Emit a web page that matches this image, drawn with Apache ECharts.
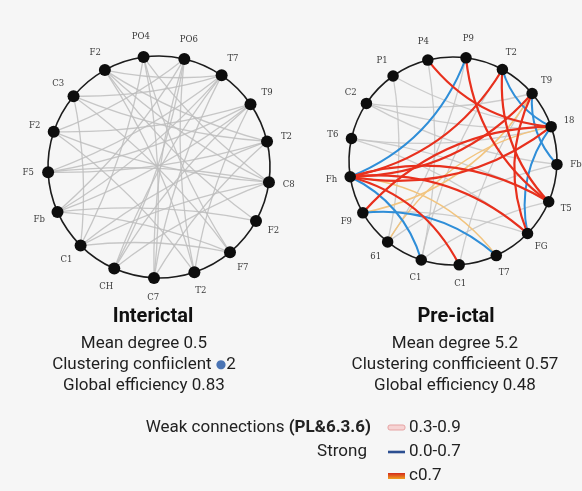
<!DOCTYPE html>
<html>
<head>
<meta charset="utf-8">
<script src="https://cdn.jsdelivr.net/npm/echarts@6/dist/echarts.min.js"></script>
<style>
  html, body { margin: 0; padding: 0; background: #f6f6f6; }
  #chart { width: 582px; height: 491px; }
</style>
</head>
<body>
<div id="chart"></div>
<script>
// Electrode labels, clockwise from the top of each ring
const interictalNodes = ["PO4", "PO6", "T7", "T9", "T2", "C8", "F2", "F7", "T2", "C7", "CH", "C1", "Fb", "F5", "F2", "C3", "F2"];
const preictalNodes = ["P4", "P9", "T2", "T9", "18", "Fb", "T5", "FG", "T7", "C1", "C1", "61", "F9", "Fh", "T6", "C2", "P1"];

// Connections as [node index, node index]
const interictalWeak = [
  [16, 2], [16, 5], [15, 2], [15, 4], [14, 3], [13, 2], [13, 4], [13, 5], [12, 6], [12, 3],
  [11, 5], [11, 7], [10, 3], [10, 1], [9, 0], [9, 2], [8, 16], [8, 14], [7, 0], [7, 15],
  [6, 16], [1, 12], [1, 9], [0, 5], [2, 10], [3, 13], [4, 11], [5, 14], [0, 11], [1, 14],
  [2, 12], [3, 8], [4, 9], [7, 12], [10, 5], [11, 15], [8, 1], [16, 4]
];
const preictalWeak = [
  [0, 10], [16, 11], [15, 3], [15, 5], [14, 4], [14, 6], [16, 4], [2, 10], [3, 9], [5, 11],
  [7, 12], [6, 10], [14, 7], [15, 4], [1, 11]
];
const preictalModerate = [[11, 4], [12, 3], [13, 8]];
const preictalStrongLow = [[1, 13], [12, 8], [13, 10], [2, 4], [4, 7], [3, 5]];
const preictalStrongHigh = [
  [0, 4], [1, 6], [2, 13], [2, 6], [3, 13], [4, 13], [4, 12], [3, 7], [13, 6], [13, 7], [13, 9]
];

// Network summary figures
const interictalStats = { title: "Interictal", degree: "0.5", clustering: "2", efficiency: "0.83" };
const preictalStats = { title: "Pre-ictal", degree: "5.2", clustering: "0.57", efficiency: "0.48" };

// Legend entries
const legendLabels = ["Weak connections", "Strong", ""];
const legendRanges = ["0.3-0.9", "0.0-0.7", "c0.7"];

const FONT = "Roboto, 'Noto Sans', sans-serif";

// Orient a pair so the edge runs counter-clockwise around the ring;
// a positive curveness then bends it toward the ring's centre.
function orient(a, b, n) {
  const d = (a - b + n) % n;
  return d <= n / 2 ? [a, b] : [b, a];
}

function ringSeries(prefix, labels, startDeg, gridIdx, nodeSize, labelDist, edgeGroups) {
  const n = labels.length;
  const step = 360 / n;
  const nodes = labels.map(function (lab, i) {
    const phi = (startDeg + i * step) * Math.PI / 180;
    return {
      name: prefix + i,
      value: [Math.sin(phi), Math.cos(phi)],
      label: {
        offset: [labelDist * Math.sin(phi), -labelDist * Math.cos(phi)]
      }
    };
  });
  const links = [];
  edgeGroups.forEach(function (g) {
    g.pairs.forEach(function (p) {
      const o = orient(p[0], p[1], n);
      links.push({
        source: prefix + o[0],
        target: prefix + o[1],
        lineStyle: { color: g.color, width: g.width, opacity: g.opacity, curveness: g.curveness }
      });
    });
  });
  // outer ring joining neighbouring electrodes
  for (let i = 0; i < n; i++) {
    links.push({
      source: prefix + ((i + 1) % n),
      target: prefix + i,
      lineStyle: { color: '#1c1c1c', width: 1.6, opacity: 1, curveness: -0.093 }
    });
  }
  return {
    type: 'graph',
    coordinateSystem: 'cartesian2d',
    xAxisIndex: gridIdx,
    yAxisIndex: gridIdx,
    silent: true,
    symbol: 'circle',
    symbolSize: nodeSize,
    itemStyle: { color: '#0d0d0d' },
    label: {
      show: true,
      position: 'inside',
      color: '#3a3a3a',
      fontSize: 8.5,
      fontFamily: "'DejaVu Serif', serif",
      formatter: function (p) { return labels[p.dataIndex]; }
    },
    emphasis: { disabled: true },
    edgeSymbol: ['none', 'none'],
    data: nodes,
    links: links,
    z: 2
  };
}

const chart = echarts.init(document.getElementById('chart'), null, { renderer: 'canvas' });

const axisBase = { type: 'value', min: -1, max: 1, show: false };

const textColor = '#1f1f1f';
const STAT_FONT = "17px " + FONT;
const graphics = [];

function addStats(cx, titleCx, s, dotMark) {
  graphics.push({
    type: 'text', x: titleCx, y: 317,
    style: { text: s.title, fill: '#111', font: "bold 20px " + FONT, align: 'center', verticalAlign: 'middle' }
  });
  graphics.push({
    type: 'text', x: cx, y: 344,
    style: { text: 'Mean degree ' + s.degree, fill: textColor, font: STAT_FONT, align: 'center', verticalAlign: 'middle' }
  });
  graphics.push({
    type: 'text', x: cx, y: 365,
    style: dotMark ? {
      text: '{t|Clustering confiiclent }{d|●}{t|' + s.clustering + '}',
      align: 'center', verticalAlign: 'middle',
      rich: {
        t: { fill: textColor, font: STAT_FONT },
        d: { fill: '#4a74b4', font: "12px 'DejaVu Sans', sans-serif" }
      }
    } : {
      text: 'Clustering confficieent ' + s.clustering, fill: textColor, font: STAT_FONT, align: 'center', verticalAlign: 'middle'
    }
  });
  graphics.push({
    type: 'text', x: cx, y: 386,
    style: { text: 'Global efficiency ' + s.efficiency, fill: textColor, font: STAT_FONT, align: 'center', verticalAlign: 'middle' }
  });
}
addStats(144, 153, interictalStats, true);
addStats(455, 456, preictalStats, false);

// Legend block
const legendY = [428, 452, 476];
graphics.push({
  type: 'text', x: 371, y: legendY[0],
  style: {
    text: '{n|' + legendLabels[0] + ' }{b|(PL&6.3.6)}', align: 'right', verticalAlign: 'middle',
    rich: { n: { fill: '#222', font: STAT_FONT }, b: { fill: '#222', font: "bold " + STAT_FONT } }
  }
});
graphics.push({
  type: 'text', x: 367, y: legendY[1],
  style: { text: legendLabels[1], fill: '#222', font: STAT_FONT, align: 'right', verticalAlign: 'middle' }
});
graphics.push({
  type: 'rect', shape: { x: 388, y: legendY[0] - 3, width: 17, height: 5, r: 2 },
  style: { fill: '#f6d3d3', stroke: '#e6a3a3', lineWidth: 1 }
});
graphics.push({
  type: 'line', shape: { x1: 388, y1: legendY[1], x2: 405, y2: legendY[1] },
  style: { stroke: '#2c4f91', lineWidth: 2.6 }
});
graphics.push({
  type: 'rect', shape: { x: 388, y: legendY[2] - 3, width: 17, height: 6 },
  style: {
    fill: new echarts.graphic.LinearGradient(0, 0, 0, 1, [
      { offset: 0, color: '#d42a1c' }, { offset: 1, color: '#f0a020' }
    ])
  }
});
legendRanges.forEach(function (r, i) {
  graphics.push({
    type: 'text', x: 409, y: legendY[i],
    style: { text: r, fill: '#222', font: STAT_FONT, align: 'left', verticalAlign: 'middle' }
  });
});

chart.setOption({
  animation: false,
  backgroundColor: '#f6f6f6',
  grid: [
    { left: 48, top: 56, width: 222, height: 222 },
    { left: 349, top: 57, width: 208, height: 208 }
  ],
  xAxis: [Object.assign({ gridIndex: 0 }, axisBase), Object.assign({ gridIndex: 1 }, axisBase)],
  yAxis: [Object.assign({ gridIndex: 0 }, axisBase), Object.assign({ gridIndex: 1 }, axisBase)],
  series: [
    ringSeries('a', interictalNodes, 352, 0, 12, 20, [
      { pairs: interictalWeak, color: '#bdbdbd', width: 1.3, opacity: 0.85, curveness: 0.08 }
    ]),
    ringSeries('b', preictalNodes, 346, 1, 11.5, 19, [
      { pairs: preictalWeak, color: '#c4c4c4', width: 1.3, opacity: 0.85, curveness: 0.1 },
      { pairs: preictalModerate, color: '#f2c47e', width: 1.5, opacity: 1, curveness: 0.22 },
      { pairs: preictalStrongLow, color: '#2f8ed8', width: 2, opacity: 1, curveness: 0.22 },
      { pairs: preictalStrongHigh, color: '#e8301d', width: 2.2, opacity: 1, curveness: 0.22 }
    ])
  ],
  graphic: graphics
});
</script>
</body>
</html>
